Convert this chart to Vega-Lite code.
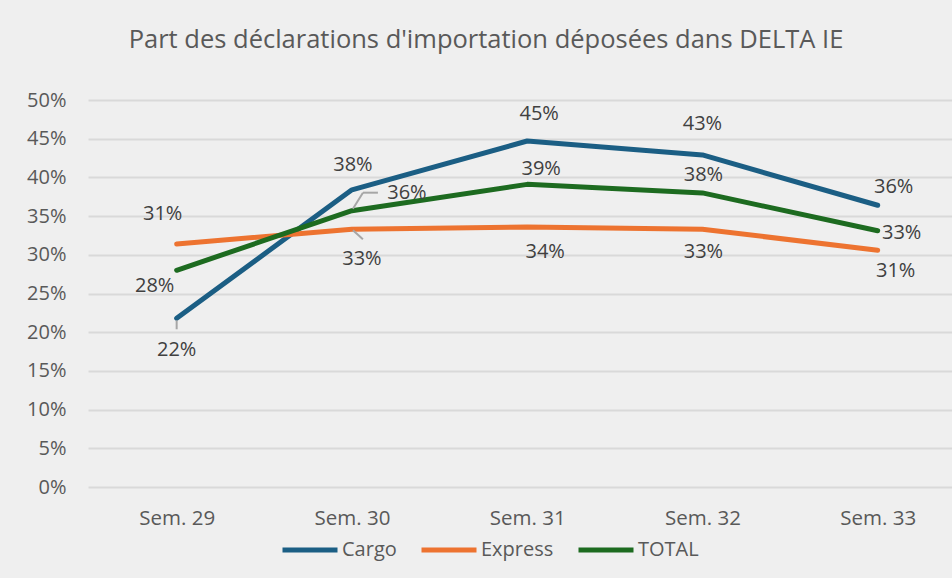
{
  "$schema": "https://vega.github.io/schema/vega-lite/v6.json",
  "width": 864,
  "height": 387,
  "autosize": "none",
  "padding": {"left": 88, "top": 100, "right": 0, "bottom": 91},
  "background": "#efefef",
  "title": {
    "text": "Part des déclarations d'importation déposées dans DELTA IE",
    "anchor": "middle",
    "frame": "group",
    "dx": -34,
    "offset": 37,
    "font": "Open Sans",
    "fontSize": 25.5,
    "fontWeight": "normal",
    "color": "#595959"
  },
  "data": {
    "values": [
      {"week": "Sem. 29", "series": "Cargo", "value": 0.218},
      {"week": "Sem. 30", "series": "Cargo", "value": 0.384},
      {"week": "Sem. 31", "series": "Cargo", "value": 0.447},
      {"week": "Sem. 32", "series": "Cargo", "value": 0.429},
      {"week": "Sem. 33", "series": "Cargo", "value": 0.364},
      {"week": "Sem. 29", "series": "Express", "value": 0.314},
      {"week": "Sem. 30", "series": "Express", "value": 0.333},
      {"week": "Sem. 31", "series": "Express", "value": 0.336},
      {"week": "Sem. 32", "series": "Express", "value": 0.333},
      {"week": "Sem. 33", "series": "Express", "value": 0.306},
      {"week": "Sem. 29", "series": "TOTAL", "value": 0.28},
      {"week": "Sem. 30", "series": "TOTAL", "value": 0.357},
      {"week": "Sem. 31", "series": "TOTAL", "value": 0.391},
      {"week": "Sem. 32", "series": "TOTAL", "value": 0.38},
      {"week": "Sem. 33", "series": "TOTAL", "value": 0.331}
    ]
  },
  "encoding": {
    "x": {
      "field": "week",
      "type": "ordinal",
      "sort": null,
      "scale": {"type": "point", "padding": 0.465, "align": 0.544},
      "axis": {
        "title": null,
        "grid": false,
        "domain": false,
        "ticks": false,
        "labelAngle": 0,
        "labelPadding": 21,
        "labelFont": "Open Sans",
        "labelFontSize": 20.5,
        "labelColor": "#595959"
      }
    },
    "y": {
      "field": "value",
      "type": "quantitative",
      "scale": {"domain": [0, 0.5], "nice": false, "zero": true},
      "axis": {
        "title": null,
        "values": [0, 0.05, 0.1, 0.15, 0.2, 0.25, 0.3, 0.35, 0.4, 0.45, 0.5],
        "format": ".0%",
        "domain": false,
        "ticks": false,
        "grid": true,
        "gridColor": "#d9d9d9",
        "gridWidth": 2,
        "labelPadding": 22,
        "labelFont": "Open Sans",
        "labelFontSize": 20,
        "labelColor": "#595959"
      }
    }
  },
  "layer": [
    {
      "mark": {"type": "line", "strokeWidth": 5, "strokeCap": "round", "strokeJoin": "round"},
      "encoding": {
        "color": {
          "field": "series",
          "type": "nominal",
          "scale": {"domain": ["Cargo", "Express", "TOTAL"], "range": ["#1b5e84", "#ed7330", "#1d6b20"]},
          "legend": {
            "title": null,
            "orient": "none",
            "legendX": 192,
            "legendY": 420,
            "direction": "horizontal",
            "symbolType": "stroke",
            "symbolSize": 3025,
            "symbolStrokeWidth": 5,
            "labelFont": "Open Sans",
            "labelFontSize": 20,
            "labelColor": "#595959",
            "labelOffset": 2,
            "columnPadding": 14
          }
        }
      }
    },
    {"transform": [{"filter": "datum.series == 'Cargo' && datum.week == 'Sem. 29'"}], "mark": {"type": "rule", "color": "#a6a6a6", "strokeWidth": 2, "yOffset": 2, "y2Offset": 11}, "encoding": {"x2": {"field": "week"}, "y2": {"field": "value"}}},
    {"transform": [{"filter": "datum.series == 'Express' && datum.week == 'Sem. 30'"}], "mark": {"type": "rule", "color": "#a6a6a6", "strokeWidth": 2, "xOffset": 1, "yOffset": 1, "x2Offset": 11, "y2Offset": 10}, "encoding": {"x2": {"field": "week"}, "y2": {"field": "value"}}},
    {"transform": [{"filter": "datum.series == 'TOTAL' && datum.week == 'Sem. 30'"}], "mark": {"type": "rule", "color": "#a6a6a6", "strokeWidth": 2, "xOffset": 1, "yOffset": -2, "x2Offset": 11, "y2Offset": -18}, "encoding": {"x2": {"field": "week"}, "y2": {"field": "value"}}},
    {"transform": [{"filter": "datum.series == 'TOTAL' && datum.week == 'Sem. 30'"}], "mark": {"type": "rule", "color": "#a6a6a6", "strokeWidth": 2, "xOffset": 11, "yOffset": -18, "x2Offset": 26, "y2Offset": -18}, "encoding": {"x2": {"field": "week"}, "y2": {"field": "value"}}},
    {"transform": [{"filter": "datum.series == 'Cargo' && datum.week == 'Sem. 29'"}], "mark": {"type": "text", "dx": 0, "dy": 32, "font": "Open Sans", "fontSize": 20, "color": "#404040"}, "encoding": {"text": {"field": "value", "format": ".0%"}}},
    {"transform": [{"filter": "datum.series == 'Cargo' && datum.week == 'Sem. 30'"}], "mark": {"type": "text", "dx": 1, "dy": -25, "font": "Open Sans", "fontSize": 20, "color": "#404040"}, "encoding": {"text": {"field": "value", "format": ".0%"}}},
    {"transform": [{"filter": "datum.series == 'Cargo' && datum.week == 'Sem. 31'"}], "mark": {"type": "text", "dx": 12, "dy": -27, "font": "Open Sans", "fontSize": 20, "color": "#404040"}, "encoding": {"text": {"field": "value", "format": ".0%"}}},
    {"transform": [{"filter": "datum.series == 'Cargo' && datum.week == 'Sem. 32'"}], "mark": {"type": "text", "dx": 0, "dy": -31, "font": "Open Sans", "fontSize": 20, "color": "#404040"}, "encoding": {"text": {"field": "value", "format": ".0%"}}},
    {"transform": [{"filter": "datum.series == 'Cargo' && datum.week == 'Sem. 33'"}], "mark": {"type": "text", "dx": 16, "dy": -18, "font": "Open Sans", "fontSize": 20, "color": "#404040"}, "encoding": {"text": {"field": "value", "format": ".0%"}}},
    {"transform": [{"filter": "datum.series == 'Express' && datum.week == 'Sem. 29'"}], "mark": {"type": "text", "dx": -14, "dy": -30, "font": "Open Sans", "fontSize": 20, "color": "#404040"}, "encoding": {"text": {"field": "value", "format": ".0%"}}},
    {"transform": [{"filter": "datum.series == 'Express' && datum.week == 'Sem. 30'"}], "mark": {"type": "text", "dx": 10, "dy": 30, "font": "Open Sans", "fontSize": 20, "color": "#404040"}, "encoding": {"text": {"field": "value", "format": ".0%"}}},
    {"transform": [{"filter": "datum.series == 'Express' && datum.week == 'Sem. 31'"}], "mark": {"type": "text", "dx": 18, "dy": 25, "font": "Open Sans", "fontSize": 20, "color": "#404040"}, "encoding": {"text": {"field": "value", "format": ".0%"}}},
    {"transform": [{"filter": "datum.series == 'Express' && datum.week == 'Sem. 32'"}], "mark": {"type": "text", "dx": 1, "dy": 23, "font": "Open Sans", "fontSize": 20, "color": "#404040"}, "encoding": {"text": {"field": "value", "format": ".0%"}}},
    {"transform": [{"filter": "datum.series == 'Express' && datum.week == 'Sem. 33'"}], "mark": {"type": "text", "dx": 18, "dy": 21, "font": "Open Sans", "fontSize": 20, "color": "#404040"}, "encoding": {"text": {"field": "value", "format": ".0%"}}},
    {"transform": [{"filter": "datum.series == 'TOTAL' && datum.week == 'Sem. 29'"}], "mark": {"type": "text", "dx": -22, "dy": 16, "font": "Open Sans", "fontSize": 20, "color": "#404040"}, "encoding": {"text": {"field": "value", "format": ".0%"}}},
    {"transform": [{"filter": "datum.series == 'TOTAL' && datum.week == 'Sem. 30'"}], "mark": {"type": "text", "dx": 55, "dy": -18, "font": "Open Sans", "fontSize": 20, "color": "#404040"}, "encoding": {"text": {"field": "value", "format": ".0%"}}},
    {"transform": [{"filter": "datum.series == 'TOTAL' && datum.week == 'Sem. 31'"}], "mark": {"type": "text", "dx": 14, "dy": -15, "font": "Open Sans", "fontSize": 20, "color": "#404040"}, "encoding": {"text": {"field": "value", "format": ".0%"}}},
    {"transform": [{"filter": "datum.series == 'TOTAL' && datum.week == 'Sem. 32'"}], "mark": {"type": "text", "dx": 1, "dy": -18, "font": "Open Sans", "fontSize": 20, "color": "#404040"}, "encoding": {"text": {"field": "value", "format": ".0%"}}},
    {"transform": [{"filter": "datum.series == 'TOTAL' && datum.week == 'Sem. 33'"}], "mark": {"type": "text", "dx": 24, "dy": 2, "font": "Open Sans", "fontSize": 20, "color": "#404040"}, "encoding": {"text": {"field": "value", "format": ".0%"}}}
  ],
  "config": {
    "view": {"stroke": null}
  }
}
